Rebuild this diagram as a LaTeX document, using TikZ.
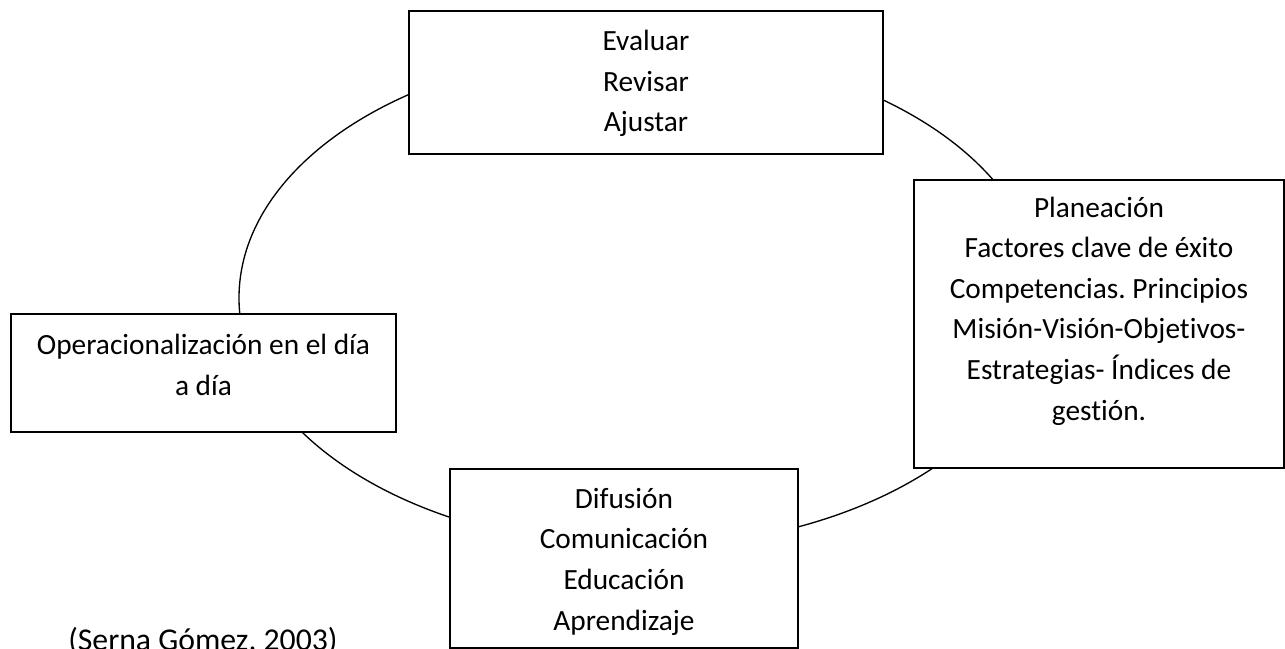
\documentclass[tikz,border=0pt]{standalone}
\usepackage{fontspec}
\setmainfont{Carlito}[Ligatures=NoCommon]
\frenchspacing
\begin{document}
\begin{tikzpicture}[x=0.75pt,y=-0.75pt,
  box/.style={draw, line width=1.3pt, fill=white, inner sep=0pt},
  txt/.style={align=center, font=\fontsize{22}{30.45}\selectfont\frenchspacing, inner sep=0pt, anchor=base},
  cyclepath/.style={line width=1pt}]
\useasboundingbox[fill=white] (0,0) rectangle (1285,649);
% cycle behind the boxes
\draw[cyclepath] (640,298) ellipse [x radius=300.75pt, y radius=186.75pt];
% boxes
\node[box, minimum width=355.5pt, minimum height=107.25pt] (eval) at (646,82.5) {};
\node[box, minimum width=277.5pt, minimum height=216pt] (plan) at (1099,324) {};
\node[box, minimum width=288.75pt, minimum height=88.5pt] (oper) at (203.5,373) {};
\node[box, minimum width=261pt, minimum height=134.25pt] (difu) at (624,558.5) {};
% texts (anchored at the baseline of their last line)
\node[txt] (evalt) at (646,132) {Evaluar\\Revisar\\Ajustar};
\node[txt] (plant) at (1099,420) {Planeación\\Factores clave de éxito\\Competencias. Principios\\Misión-Visión-Objetivos-\\Estrategias- Índices de\\gestión.};
\node[txt] (opert) at (203.5,395) {Operacionalización en el día\\a día};
\node[txt] (difut) at (624,630) {Difusión\\Comunicación\\Educación\\Aprendizaje};
\node[txt, font=\fontsize{23.8}{30}\selectfont, anchor=base west] (cite) at (68,650) {(Serna Gómez, 2003)};
\end{tikzpicture}
\end{document}
